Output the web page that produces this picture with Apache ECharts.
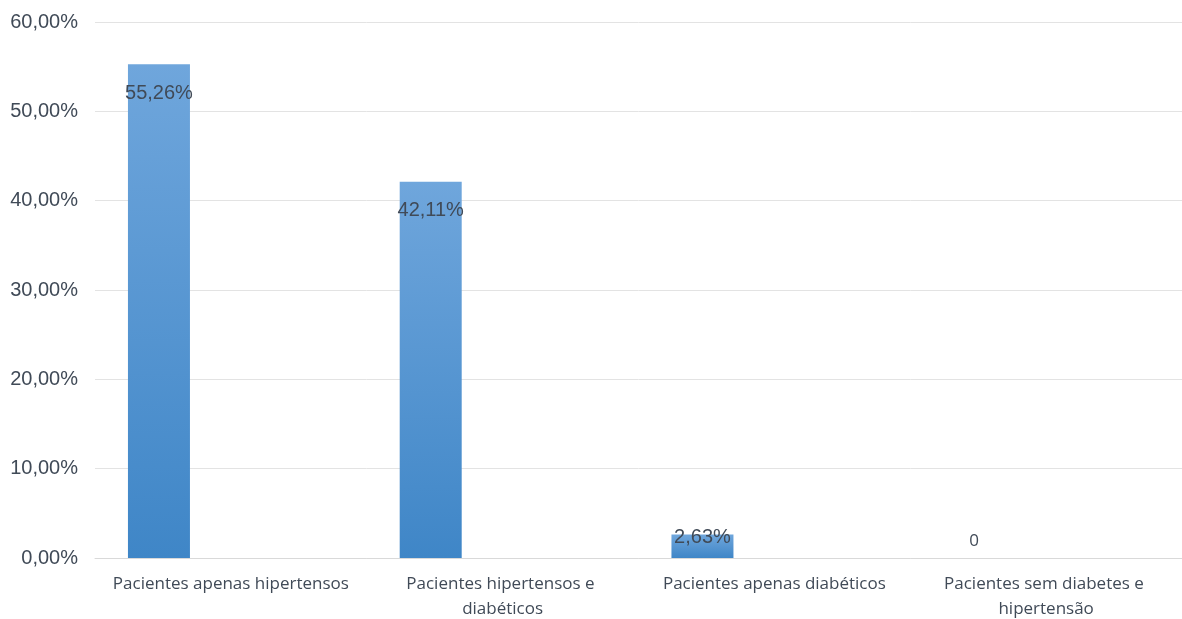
<!DOCTYPE html>
<html>
<head>
<meta charset="utf-8">
<script src="https://cdn.jsdelivr.net/npm/echarts@6/dist/echarts.min.js"></script>
<style>
  html, body { margin: 0; padding: 0; background: #fff; }
  #chart { width: 1182px; height: 619px; }
</style>
</head>
<body>
<div id="chart"></div>
<script>
// Patient groups and their share of the sample (percent)
const categories = [
  'Pacientes apenas hipertensos',
  'Pacientes hipertensos e diabéticos',
  'Pacientes apenas diabéticos',
  'Pacientes sem diabetes e hipertensão'
];
const percentages = [55.26, 42.11, 2.63, 0];
const valueLabels = ['55,26%', '42,11%', '2,63%', '0'];
const yTicks = [0, 10, 20, 30, 40, 50, 60];

const chart = echarts.init(document.getElementById('chart'));

const barGradient = new echarts.graphic.LinearGradient(0, 0, 0, 1, [
  { offset: 0, color: '#6fa6dc' },
  { offset: 1, color: '#3f86c7' }
]);

const labelFont = {
  color: '#404a57',
  fontFamily: 'Liberation Sans, Arial, sans-serif',
  fontSize: 20
};

const barData = percentages.map((v, i) => {
  let label;
  if (v >= 10) {
    label = Object.assign({ show: true, position: 'insideTop', distance: 19 }, labelFont);
  } else if (v > 0) {
    label = Object.assign({ show: true, position: 'top', distance: -13 }, labelFont);
  } else {
    label = { show: true, position: 'top', distance: 8, color: '#404a57',
              fontFamily: 'Open Sans, sans-serif', fontSize: 17 };
  }
  label.formatter = () => valueLabels[i];
  return { value: v, label: label };
});

chart.setOption({
  animation: false,
  grid: { left: 95, right: 0, top: 22, bottom: 61, outerBoundsMode: 'none', containLabel: false },
  xAxis: {
    type: 'category',
    data: categories,
    axisTick: { show: false },
    axisLine: { lineStyle: { color: '#d9d9d9', width: 1 } },
    axisLabel: {
      interval: 0,
      margin: 14,
      width: 250,
      overflow: 'break',
      lineHeight: 25,
      color: '#404a57',
      fontFamily: 'Open Sans, sans-serif',
      fontSize: 17
    }
  },
  yAxis: {
    type: 'value',
    min: yTicks[0],
    max: yTicks[yTicks.length - 1],
    interval: 10,
    axisLine: { show: false },
    axisTick: { show: false },
    splitLine: { lineStyle: { color: '#e3e3e3', width: 1 } },
    axisLabel: {
      margin: 17,
      color: '#404a57',
      fontFamily: 'Liberation Sans, Arial, sans-serif',
      fontSize: 20,
      formatter: v => v.toFixed(2).replace('.', ',') + '%'
    }
  },
  series: [
    {
      type: 'bar',
      data: barData,
      barWidth: 62,
      barGap: '132%',
      itemStyle: { color: barGradient }
    },
    {
      type: 'bar',
      data: percentages.map(() => null),
      barWidth: 62,
      itemStyle: { color: 'transparent' }
    }
  ]
});
</script>
</body>
</html>
